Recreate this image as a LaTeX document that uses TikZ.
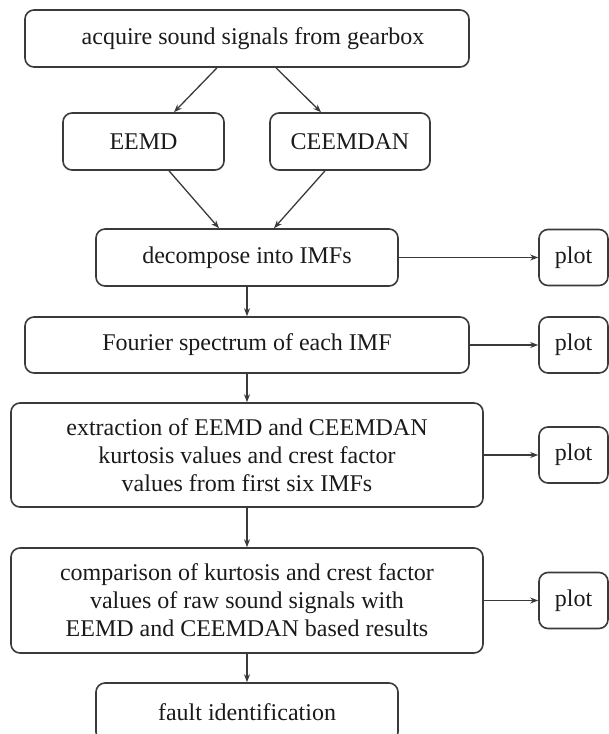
\documentclass[tikz,border=0pt]{standalone}
\usepackage{fontspec}
\setmainfont{Liberation Serif}
\usetikzlibrary{arrows.meta,calc}
\definecolor{linec}{HTML}{3A3A3A}
\definecolor{textc}{HTML}{1A1A1A}
\tikzset{
  boxst/.style={draw=linec, line width=1.6pt, rounded corners=9pt, align=center,
    text=textc, inner sep=0pt, font=\fontsize{24}{28}\selectfont},
  arr/.style={draw=linec, line width=1.3pt, -{Stealth[length=8pt,width=6pt]}},
}
\begin{document}
\begin{tikzpicture}[x=1pt,y=-1pt]
\useasboundingbox (0,0) rectangle (609,734);
\node[boxst, minimum width=444pt, minimum height=57pt] (b1) at (247,38.5) {\hspace*{12pt}acquire sound signals from gearbox};
\node[boxst, minimum width=161pt, minimum height=57pt] (eemd) at (143.5,141.5) {EEMD};
\node[boxst, minimum width=160pt, minimum height=57pt] (ceem) at (350,141.5) {CEEMDAN};
\node[boxst, minimum width=302pt, minimum height=57pt] (dec) at (247,257.5) {decompose into IMFs};
\node[boxst, minimum width=444pt, minimum height=56pt] (four) at (247,345) {Fourier spectrum of each IMF};
\node[boxst, minimum width=472pt, minimum height=104pt] (ext) at (247,455) {extraction of EEMD and CEEMDAN\\kurtosis values and crest factor\\values from first six IMFs};
\node[boxst, minimum width=472pt, minimum height=105pt] (comp) at (247,600.5) {comparison of kurtosis and crest factor\\values of raw sound signals with\\EEMD and CEEMDAN based results};
\node[boxst, minimum width=302pt, minimum height=58pt] (fault) at (247,712) {fault identification};
\node[boxst, minimum width=69pt, minimum height=56pt] (p1) at (573.5,257.5) {plot};
\node[boxst, minimum width=69pt, minimum height=56pt] (p2) at (573.5,345) {plot};
\node[boxst, minimum width=69pt, minimum height=56pt] (p3) at (573.5,455) {plot};
\node[boxst, minimum width=69pt, minimum height=56pt] (p4) at (573.5,600.5) {plot};
\draw[arr] ([xshift=-30pt]b1.south) -- ([xshift=30.5pt]eemd.north);
\draw[arr] ([xshift=29pt]b1.south) -- ([xshift=-29pt]ceem.north);
\draw[arr] ([xshift=25.5pt]eemd.south) -- ([xshift=-28pt]dec.north);
\draw[arr] ([xshift=-25pt]ceem.south) -- ([xshift=27pt]dec.north);
\draw[arr] (dec) -- (four);
\draw[arr] (four) -- (ext);
\draw[arr] (ext) -- (comp);
\draw[arr] (comp) -- (fault);
\draw[arr] (dec) -- (p1);
\draw[arr] (four) -- (p2);
\draw[arr] (ext) -- (p3);
\draw[arr] (comp) -- (p4);
\end{tikzpicture}
\end{document}
